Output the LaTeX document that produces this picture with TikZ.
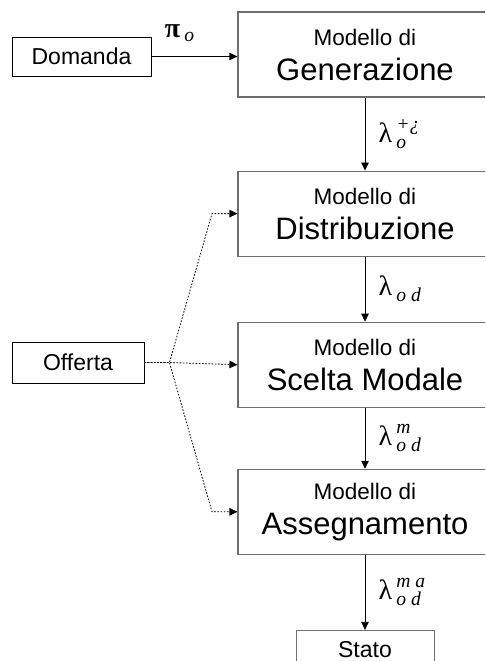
\documentclass[tikz,border=0pt]{standalone}
\usepackage{fontspec}
\setmainfont{Liberation Sans}
\newfontfamily\grkfont{Liberation Serif}
\usepackage{amsmath}
\usetikzlibrary{arrows.meta,positioning}
\definecolor{cFrame}{RGB}{110,110,110}
\tikzset{
  modbox/.style={rectangle,draw=cFrame,line width=1.1pt,align=center,
                 minimum width=254pt,minimum height=85pt,inner sep=0pt,
                 font=\fontsize{31}{35}\selectfont},
  smallbox/.style={rectangle,draw=black,line width=0.9pt,
                   minimum height=39pt,inner sep=0pt,
                   font=\fontsize{23}{26}\selectfont},
  arr/.style={-{Triangle[length=8pt,width=7.5pt]},line width=0.8pt},
  dotarr/.style={-{Triangle[length=8pt,width=7.5pt]},line width=0.8pt,
                 dash pattern=on 1.6pt off 1.6pt},
  lbl/.style={font=\fontsize{28}{32}\selectfont}
}
\newcommand{\modtxt}[1]{{\fontsize{22.5}{26}\selectfont Modello di}\\#1}
\newcommand{\glam}[2]{${\text{\grkfont λ}\,}_{\text{\grkfont\itshape #1}}%
  ^{\text{\grkfont\itshape #2}}$}

\begin{document}
\begin{tikzpicture}[x=1pt,y=-1pt,node distance=73pt]
  \useasboundingbox (0,0) rectangle (485,661);
  \clip (0,0) rectangle (485,661);
  \node[modbox] (gen) at (365,54.5) {\modtxt{Generazione}};
  \node[modbox,below=of gen] (dist) {\modtxt{Distribuzione}};
  \node[modbox,below=65pt of dist] (scel) {\modtxt{Scelta Modale}};
  \node[modbox,below=61pt of scel] (asse) {\modtxt{Assegnamento}};
  \node[smallbox,draw=cFrame,minimum width=138pt,below=75pt of asse] (stato) {Stato};
  \node[smallbox,minimum width=139pt] (dom) at (81.5,56.5) {Domanda};
  \node[smallbox,minimum width=132pt,minimum height=41pt] (off) at (78,362.5) {Offerta};
  \coordinate[right=25pt of off.east] (fork);
  \coordinate (knee) at (212,0);

  \draw[arr] (dom.east) -- (dom.east -| gen.west)
      node[lbl,pos=0.33,above=11pt] {${\text{\grkfont\bfseries π}\,}_{\text{\grkfont\itshape o}}$};
  \draw[arr] (gen) -- (dist)
      node[lbl,midway,right=10pt] {\glam{o}{+¿}};
  \draw[arr] (dist) -- (scel)
      node[lbl,midway,right=10pt] {\glam{o d}{}};
  \draw[arr] (scel) -- (asse)
      node[lbl,midway,right=10pt] {\glam{o d}{m}};
  \draw[arr] (asse) -- (stato)
      node[lbl,midway,right=10pt] {\glam{o d}{m a}};

  \draw[dotarr] (off.east) -- (fork) -- (knee |- dist.west) -- (dist.west);
  \draw[dotarr] (off.east) -- (fork) -- (scel.west);
  \draw[dotarr] (off.east) -- (fork) -- (knee |- asse.west) -- (asse.west);
\end{tikzpicture}
\end{document}
